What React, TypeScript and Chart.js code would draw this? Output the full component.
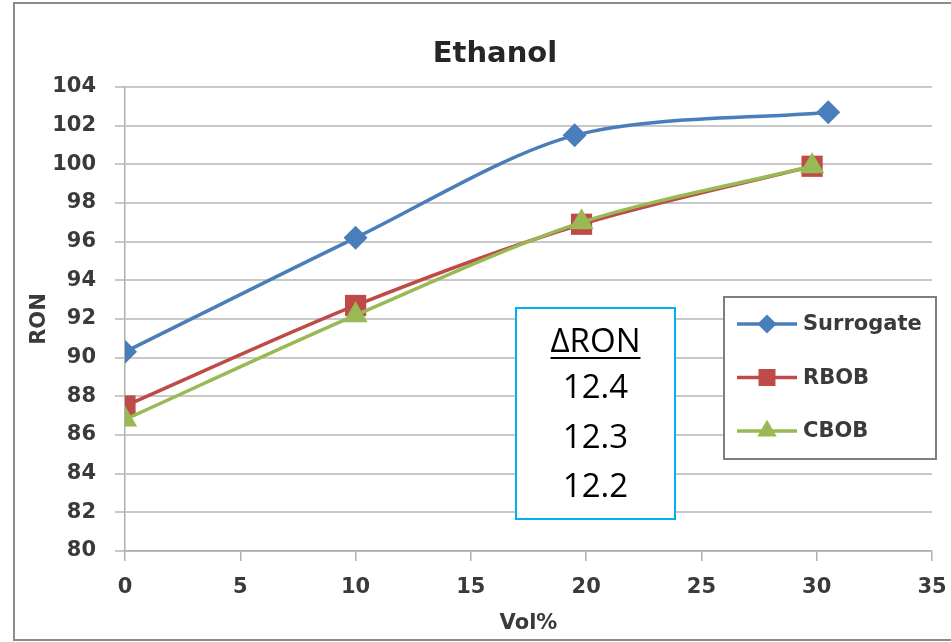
import React, { useEffect, useRef } from "react";
import { Chart, registerables } from "chart.js";

Chart.register(...registerables);

const CHART_TITLE = "Ethanol";
const X_TITLE = "Vol%";
const Y_TITLE = "RON";
const SERIES_NAMES = ["Surrogate", "RBOB", "CBOB"];
const SURROGATE_X = [0, 10, 19.5, 30.5];
const SURROGATE_Y = [90.3, 96.2, 101.5, 102.7];
const RBOB_X = [0, 10, 19.8, 29.8];
const RBOB_Y = [87.5, 92.7, 96.9, 99.9];
const CBOB_X = [0, 10, 19.8, 29.8];
const CBOB_Y = [86.8, 92.2, 97.0, 99.9];
const DELTA_HEADER = "ΔRON";
const DELTA_VALUES = ["12.4", "12.3", "12.2"];
const X_MIN = 0, X_MAX = 35, X_STEP = 5;
const Y_MIN = 80, Y_MAX = 104, Y_STEP = 2;

const COLORS = ["#4a7ebb", "#be4b48", "#98b954"];
const STYLES = ["rectRot", "rect", "triangle"];
const RADII = [12, 15, 14];

const W = 951, H = 642;
const FONT_FAMILY = "'DejaVu Sans', sans-serif";
const TEXT_COLOR = "#3a3a3a";

function toPoints(xs: number[], ys: number[]) {
  return xs.map((x, i) => ({ x, y: ys[i] }));
}

function drawMarker(ctx: CanvasRenderingContext2D, style: string, x: number, y: number, r: number, color: string) {
  ctx.save();
  ctx.fillStyle = color;
  ctx.beginPath();
  if (style === "rectRot") {
    ctx.moveTo(x - r, y); ctx.lineTo(x, y - r); ctx.lineTo(x + r, y); ctx.lineTo(x, y + r);
  } else if (style === "rect") {
    const s = r * Math.SQRT1_2;
    ctx.rect(x - s, y - s, 2 * s, 2 * s);
  } else {
    const a = (2 * Math.PI) / 3;
    ctx.moveTo(x, y - r);
    ctx.lineTo(x + Math.sin(a) * r, y - Math.cos(a) * r);
    ctx.lineTo(x - Math.sin(a) * r, y - Math.cos(a) * r);
  }
  ctx.closePath();
  ctx.fill();
  ctx.restore();
}

const overlayPlugin = {
  id: "overlay",
  beforeDraw(chart: any) {
    const ctx: CanvasRenderingContext2D = chart.ctx;
    ctx.save();
    ctx.fillStyle = "#ffffff";
    ctx.fillRect(0, 0, chart.width, chart.height);
    ctx.strokeStyle = "#8c8c8c";
    ctx.lineWidth = 2;
    ctx.strokeRect(14, 3, chart.width + 10, chart.height - 5);
    ctx.restore();
  },
  afterDraw(chart: any) {
    const ctx: CanvasRenderingContext2D = chart.ctx;
    ctx.save();
    // Title
    ctx.fillStyle = "#262626";
    ctx.font = `bold 29px ${FONT_FAMILY}`;
    ctx.textAlign = "center";
    ctx.textBaseline = "middle";
    ctx.fillText(CHART_TITLE, 495, 54);

    // Delta RON box
    const bx = 516, by = 308, bw = 159, bh = 211;
    ctx.fillStyle = "#ffffff";
    ctx.fillRect(bx, by, bw, bh);
    ctx.strokeStyle = "#00b0f0";
    ctx.lineWidth = 2;
    ctx.strokeRect(bx, by, bw, bh);
    ctx.fillStyle = "#000000";
    ctx.font = `33px 'Open Sans', sans-serif`;
    ctx.textAlign = "center";
    ctx.textBaseline = "alphabetic";
    const cx = bx + bw / 2;
    ctx.fillText(DELTA_HEADER, cx, 352);
    const hw = ctx.measureText(DELTA_HEADER).width;
    ctx.fillRect(cx - hw / 2, 357, hw, 2);
    DELTA_VALUES.forEach((v, i) => ctx.fillText(v, cx, 398 + i * 49.5));

    // Legend
    const lx = 724, ly = 297, lw = 212, lh = 162;
    ctx.fillStyle = "#ffffff";
    ctx.fillRect(lx, ly, lw, lh);
    ctx.strokeStyle = "#7f7f7f";
    ctx.lineWidth = 2;
    ctx.strokeRect(lx, ly, lw, lh);
    ctx.font = `bold 21px ${FONT_FAMILY}`;
    ctx.textAlign = "left";
    ctx.textBaseline = "middle";
    chart.data.datasets.forEach((ds: any, i: number) => {
      const yy = 324 + i * 53.5;
      ctx.strokeStyle = ds.borderColor;
      ctx.lineWidth = 3.5;
      ctx.beginPath();
      ctx.moveTo(737, yy);
      ctx.lineTo(797, yy);
      ctx.stroke();
      drawMarker(ctx, ds.pointStyle, 767, yy, ds.pointRadius * 0.8, ds.borderColor);
      ctx.fillStyle = TEXT_COLOR;
      ctx.fillText(ds.label, 803, yy + 1);
    });
    ctx.restore();
  },
};

export default function App() {
  const ref = useRef<HTMLCanvasElement | null>(null);
  useEffect(() => {
    if (!ref.current) return;
    const xs = [SURROGATE_X, RBOB_X, CBOB_X];
    const ys = [SURROGATE_Y, RBOB_Y, CBOB_Y];
    const datasets = SERIES_NAMES.map((name, i) => ({
      label: name,
      data: toPoints(xs[i], ys[i]),
      borderColor: COLORS[i],
      backgroundColor: COLORS[i],
      pointBackgroundColor: COLORS[i],
      pointBorderColor: COLORS[i],
      pointBorderWidth: 0,
      pointStyle: STYLES[i],
      pointRadius: RADII[i],
      borderWidth: 3.5,
      tension: 0.3,
      order: 2 - i,
    }));
    const tickFont = { family: FONT_FAMILY, size: 21, weight: "bold" as const };
    const chart = new Chart(ref.current, {
      type: "line",
      data: { datasets },
      plugins: [overlayPlugin],
      options: {
        animation: false,
        responsive: false,
        devicePixelRatio: 1,
        layout: { padding: { left: 0, right: 19, top: 87, bottom: 0 } },
        plugins: { legend: { display: false }, title: { display: false }, tooltip: { enabled: false } },
        scales: {
          x: {
            type: "linear",
            min: X_MIN,
            max: X_MAX,
            ticks: { stepSize: X_STEP, font: tickFont, color: TEXT_COLOR, padding: 14 },
            grid: { display: true, drawOnChartArea: false, drawTicks: true, tickLength: 10, color: "#b0b0b0", lineWidth: 1.5 },
            border: { display: true, color: "#b0b0b0", width: 1.5 },
            title: { display: true, text: X_TITLE, font: tickFont, color: TEXT_COLOR, padding: { top: 0, bottom: 6 } },
            afterFit: (s: any) => { s.height = 91; s.paddingLeft = 0; s.paddingRight = 0; },
          },
          y: {
            type: "linear",
            min: Y_MIN,
            max: Y_MAX,
            ticks: { stepSize: Y_STEP, font: tickFont, color: TEXT_COLOR, padding: 19 },
            grid: { color: "#c8c8c8", lineWidth: 2, tickLength: 10 },
            border: { display: true, color: "#b0b0b0", width: 1.5 },
            title: { display: true, text: Y_TITLE, font: tickFont, color: TEXT_COLOR, padding: { top: 27, bottom: 0 } },
            afterFit: (s: any) => { s.width = 125; s.paddingTop = 0; s.paddingBottom = 0; },
          },
        },
      },
    } as any);
    return () => chart.destroy();
  }, []);
  return (
    <div style={{ position: "fixed", left: 0, top: 0, width: W, height: H, background: "#fff" }}>
      <canvas ref={ref} width={W} height={H} style={{ width: W, height: H, display: "block" }} />
    </div>
  );
}
